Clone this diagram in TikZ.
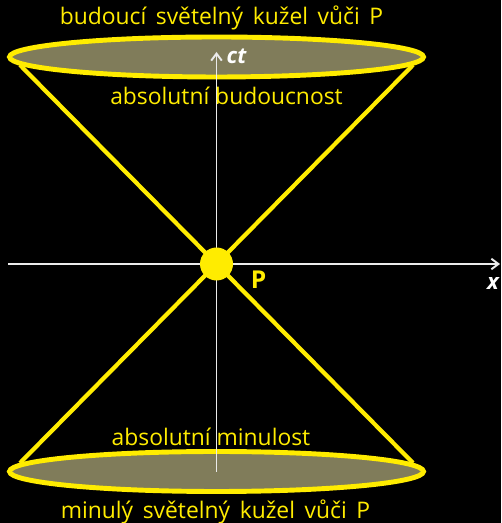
\documentclass[tikz,border=0pt]{standalone}
\usepackage{fontspec}
\setmainfont{Open Sans}
\usetikzlibrary{arrows.meta}
\definecolor{coneyellow}{RGB}{255,236,0}
\definecolor{conefill}{RGB}{128,124,90}
\newcommand{\gap}{\hspace{0.42em}}

\begin{document}
\begin{tikzpicture}[
    every node/.style={font=\fontsize{13}{15}\selectfont},
    cone/.style={draw=coneyellow, line width=2.4pt},
    base/.style={cone, fill=conefill, line width=2.8pt},
    axis/.style={draw=white!92!black, line width=1.1pt, -{Straight Barb[length=4pt, width=6pt]}},
    label/.style={text=coneyellow},
    axlabel/.style={text=white, font=\fontsize{12.5}{14}\selectfont\bfseries\itshape},
]
% background and bounding box
\fill[black] (0,0) rectangle (10.02,10.46);
\useasboundingbox (0,0) rectangle (10.02,10.46);

% event P and cone rim points
\coordinate (P) at (4.33,5.18);
\coordinate (ftl) at (0.40,9.16);
\coordinate (ftr) at (8.26,9.16);
\coordinate (pbl) at (0.40,1.20);
\coordinate (pbr) at (8.26,1.20);

% light cone
\draw[cone] (ftl) -- (pbr);
\draw[cone] (ftr) -- (pbl);
\draw[base] (4.33,1.03) ellipse [x radius=4.14, y radius=0.40];
\draw[base] (4.33,9.32) ellipse [x radius=4.14, y radius=0.40];

% axes
\coordinate (xs) at (0.16,5.18);
\coordinate (xe) at (10.0,5.18);
\coordinate (ts) at (4.33,1.02);
\coordinate (te) at (4.33,9.42);
\draw[axis] (xs) -- (xe);
\draw[axis] (ts) -- (te);
\node[axlabel] (ctlbl) at (4.73,9.33) {ct};
\node[axlabel] (xlbl) at (9.86,4.78) {x};

% event dot
\fill[coneyellow] (P) circle (0.33);
\node[label, font=\fontsize{14}{16}\selectfont\bfseries] (Plbl) at (5.17,4.86) {P};

% region texts
\node[label] (futcone) at (4.43,10.10) {budoucí\gap světelný\gap kužel\gap vůči\gap P};
\node[label] (future) at (4.53,8.54) {absolutní\ budoucnost};
\node[label] (past) at (4.22,1.72) {absolutní\ minulost};
\node[label] (pastcone) at (4.31,0.22) {minulý\gap světelný\gap kužel\gap vůči\gap P};
\end{tikzpicture}
\end{document}
